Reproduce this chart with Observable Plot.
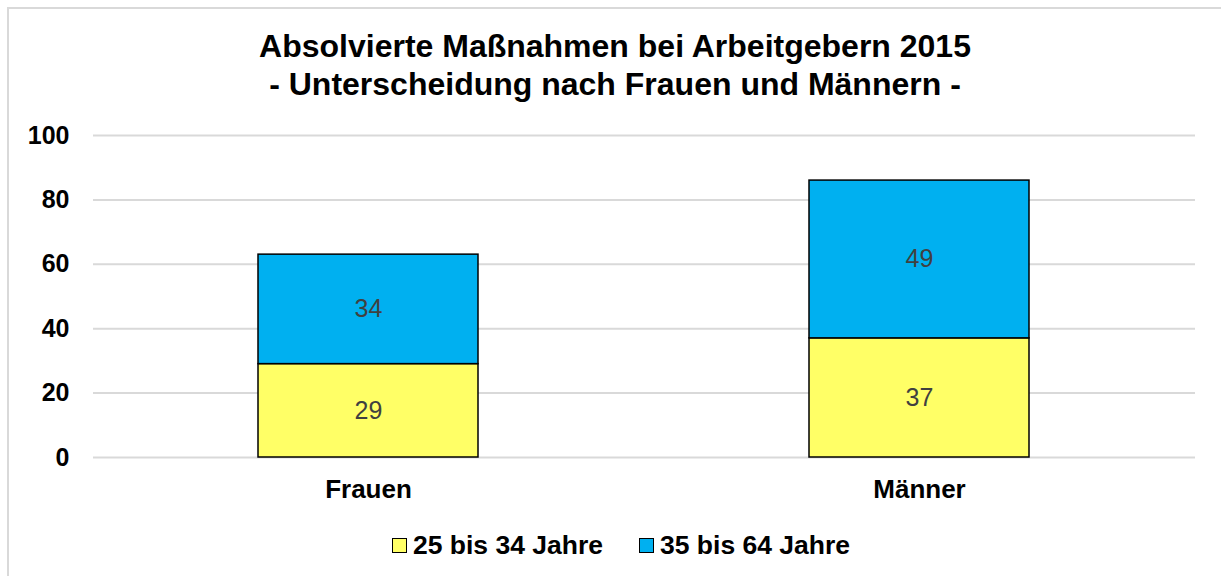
<!DOCTYPE html>
<html>
<head>
<meta charset="utf-8">
<script src="https://cdn.jsdelivr.net/npm/d3@7"></script>
<script src="https://cdn.jsdelivr.net/npm/@observablehq/plot@0.6"></script>
<style>
  html, body { margin: 0; padding: 0; overflow: hidden; background: #fff; }
  #wrap { position: relative; width: 1221px; height: 576px; font-family: "Liberation Sans", Arial, sans-serif; }
  #frame { position: absolute; left: 7px; top: 7px; width: 1300px; height: 700px; border: 2px solid #d9d9d9; box-sizing: border-box; }
  #title { position: absolute; left: 0; width: 1230px; top: 27px; text-align: center; font-weight: bold; font-size: 32px; line-height: 38px; color: #000; }
  #chart { position: absolute; left: 0; top: 0; }
  #legend { position: absolute; left: 0; width: 1242px; top: 530px; display: flex; justify-content: center; align-items: center; gap: 36px; font-weight: bold; font-size: 26.5px; color: #000; }
  .item { display: flex; align-items: center; gap: 6px; }
  .sw { width: 15px; height: 15px; box-sizing: border-box; border: 1.5px solid #000; }
</style>
</head>
<body>
<div id="wrap">
  <div id="frame"></div>
  <div id="chart"></div>
  <div id="title">Absolvierte Maßnahmen bei Arbeitgebern 2015<br>- Unterscheidung nach Frauen und Männern -</div>
  <div id="legend"></div>
</div>
<script>
const categories = ["Frauen", "Männer"];
const seriesNames = ["25 bis 34 Jahre", "35 bis 64 Jahre"];
const valuesYoung = [29, 37];
const valuesOlder = [34, 49];
const seriesColors = ["#ffff66", "#00b0f0"];
const yTicks = [0, 20, 40, 60, 80, 100];

const rows = [];
categories.forEach((c, i) => {
  rows.push({cat: c, series: seriesNames[0], value: valuesYoung[i]});
  rows.push({cat: c, series: seriesNames[1], value: valuesOlder[i]});
});

const chart = Plot.plot({
  width: 1221,
  height: 576,
  marginTop: 135,
  marginBottom: 119,
  marginLeft: 93,
  marginRight: 26,
  style: {fontFamily: "'Liberation Sans', Arial, sans-serif", background: "transparent"},
  x: {domain: categories, paddingInner: 0.6, paddingOuter: 0.3, label: null},
  y: {domain: [0, 100], label: null},
  color: {domain: seriesNames, range: seriesColors},
  marks: [
    Plot.gridY(yTicks, {stroke: "#d9d9d9", strokeOpacity: 1, strokeWidth: 2}),
    Plot.barY(rows, Plot.stackY({x: "cat", y: "value", z: "series", fill: "series", stroke: "#000", strokeWidth: 1.5, order: null})),
    Plot.text(rows, Plot.stackY({x: "cat", y: "value", z: "series", text: d => String(d.value), fill: "#404040", fontSize: 25, order: null})),
    Plot.axisY(yTicks, {tickSize: 0, tickPadding: 24, fontSize: 25, fontWeight: "bold", fill: "#000", label: null}),
    Plot.axisX({tickSize: 0, tickPadding: 22, fontSize: 26, fontWeight: "bold", fill: "#000", label: null})
  ]
});
document.getElementById("chart").appendChild(chart);

const legend = document.getElementById("legend");
seriesNames.forEach((s, i) => {
  const item = document.createElement("div");
  item.className = "item";
  const sw = document.createElement("div");
  sw.className = "sw";
  sw.style.background = seriesColors[i];
  const t = document.createElement("span");
  t.textContent = s;
  item.appendChild(sw);
  item.appendChild(t);
  legend.appendChild(item);
});
</script>
</body>
</html>
